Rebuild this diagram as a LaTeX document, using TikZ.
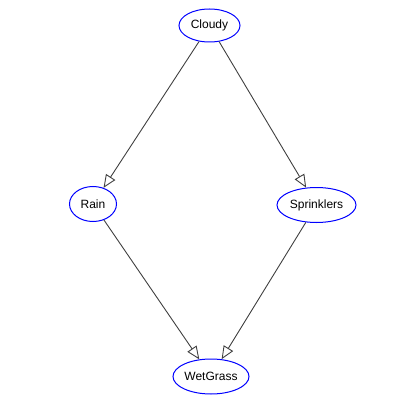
\documentclass[tikz,border=0pt]{standalone}
\usepackage{fontspec}
\setmainfont{Liberation Sans}
\usetikzlibrary{shapes.geometric,arrows.meta}
\begin{document}
\begin{tikzpicture}[x=1pt,y=-1pt,
  var/.style={ellipse,draw=blue,line width=1pt,fill=white,inner sep=0pt,
    font=\fontsize{12}{14}\selectfont},
  edge/.style={draw=black!75,line width=0.9pt,
    -{Triangle[open,length=13pt,width=11pt,line width=0.9pt]}}]
\useasboundingbox (0,0) rectangle (413,414);
\node[var,minimum width=61pt,minimum height=33pt] (c) at (209.5,25.5) {Cloudy};
\node[var,minimum width=47pt,minimum height=35pt] (r) at (93,204) {Rain};
\node[var,minimum width=79pt,minimum height=35pt] (s) at (316.5,205) {Sprinklers};
\node[var,minimum width=76pt,minimum height=35pt] (w) at (211,376.5) {WetGrass};
\draw[edge] (c) -- (r);
\draw[edge] (c) -- (s);
\draw[edge] (r) -- (w);
\draw[edge] (s) -- (w);
\end{tikzpicture}
\end{document}
